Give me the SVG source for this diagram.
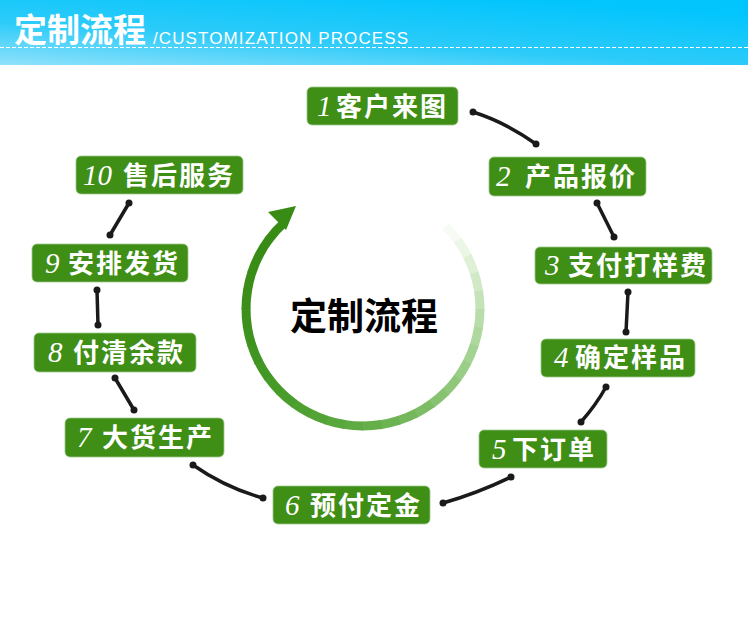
<svg xmlns="http://www.w3.org/2000/svg" width="748" height="622" viewBox="0 0 748 622">
<defs>
<linearGradient id="hdr" x1="0" y1="1" x2="0.7" y2="0">
<stop offset="0" stop-color="#8fe1fb"/>
<stop offset="0.45" stop-color="#2ccbf9"/>
<stop offset="1" stop-color="#02c5fd"/>
</linearGradient>
<style>
.box{fill:#3f8e16;stroke:#9cc88a;stroke-width:0.8}
.num{font-family:"Liberation Serif",serif;font-style:italic;font-size:29px;fill:#fff}
.cn{font-family:"Noto Sans CJK SC",sans-serif;font-weight:bold;font-size:26px;fill:#fff;letter-spacing:2px}
.conn{fill:none;stroke:#1a1a1a;stroke-width:3.5;stroke-linecap:round}
.dot{fill:#1a1a1a}
.seg{fill:none;stroke-width:9;stroke-dasharray:19.4 800}
</style>
</defs>
<rect width="748" height="622" fill="#fff"/>
<g id="header">
<rect x="0" y="0" width="748" height="65" fill="url(#hdr)"/>
<line x1="0" y1="47.5" x2="748" y2="47.5" stroke="#fff" stroke-width="1" stroke-dasharray="4 2"/>
<text x="14" y="42" font-family="'Noto Sans CJK SC',sans-serif" font-weight="bold" font-size="33" fill="#fff">定制流程</text>
<text x="153" y="44" font-family="'Liberation Sans',sans-serif" font-size="17" fill="#fff" textLength="255">/CUSTOMIZATION PROCESS</text>
</g>
<g id="cycle">
<circle class="seg" cx="363" cy="309" r="117" stroke="#f7fbf5" transform="rotate(-45 363 309)"/>
<circle class="seg" cx="363" cy="309" r="117" stroke="#ecf6e7" transform="rotate(-36 363 309)"/>
<circle class="seg" cx="363" cy="309" r="117" stroke="#dff0d6" transform="rotate(-27 363 309)"/>
<circle class="seg" cx="363" cy="309" r="117" stroke="#d2e9c7" transform="rotate(-18 363 309)"/>
<circle class="seg" cx="363" cy="309" r="117" stroke="#c5e3b8" transform="rotate(-9 363 309)"/>
<circle class="seg" cx="363" cy="309" r="117" stroke="#b9ddaa" transform="rotate(0 363 309)"/>
<circle class="seg" cx="363" cy="309" r="117" stroke="#afd89e" transform="rotate(9 363 309)"/>
<circle class="seg" cx="363" cy="309" r="117" stroke="#a4d292" transform="rotate(18 363 309)"/>
<circle class="seg" cx="363" cy="309" r="117" stroke="#9acd86" transform="rotate(27 363 309)"/>
<circle class="seg" cx="363" cy="309" r="117" stroke="#90c77b" transform="rotate(36 363 309)"/>
<circle class="seg" cx="363" cy="309" r="117" stroke="#86c270" transform="rotate(45 363 309)"/>
<circle class="seg" cx="363" cy="309" r="117" stroke="#7cbc65" transform="rotate(54 363 309)"/>
<circle class="seg" cx="363" cy="309" r="117" stroke="#74b85b" transform="rotate(63 363 309)"/>
<circle class="seg" cx="363" cy="309" r="117" stroke="#6cb352" transform="rotate(72 363 309)"/>
<circle class="seg" cx="363" cy="309" r="117" stroke="#65af4a" transform="rotate(81 363 309)"/>
<circle class="seg" cx="363" cy="309" r="117" stroke="#5eab43" transform="rotate(90 363 309)"/>
<circle class="seg" cx="363" cy="309" r="117" stroke="#58a73c" transform="rotate(99 363 309)"/>
<circle class="seg" cx="363" cy="309" r="117" stroke="#53a336" transform="rotate(108 363 309)"/>
<circle class="seg" cx="363" cy="309" r="117" stroke="#4ea031" transform="rotate(117 363 309)"/>
<circle class="seg" cx="363" cy="309" r="117" stroke="#4a9d2c" transform="rotate(126 363 309)"/>
<circle class="seg" cx="363" cy="309" r="117" stroke="#469a28" transform="rotate(135 363 309)"/>
<circle class="seg" cx="363" cy="309" r="117" stroke="#439724" transform="rotate(144 363 309)"/>
<circle class="seg" cx="363" cy="309" r="117" stroke="#409421" transform="rotate(153 363 309)"/>
<circle class="seg" cx="363" cy="309" r="117" stroke="#3e921e" transform="rotate(162 363 309)"/>
<circle class="seg" cx="363" cy="309" r="117" stroke="#3c901b" transform="rotate(171 363 309)"/>
<circle class="seg" cx="363" cy="309" r="117" stroke="#3b8f19" transform="rotate(180 363 309)"/>
<circle class="seg" cx="363" cy="309" r="117" stroke="#3a8d17" transform="rotate(189 363 309)"/>
<circle class="seg" cx="363" cy="309" r="117" stroke="#398c16" transform="rotate(198 363 309)"/>
<circle class="seg" cx="363" cy="309" r="117" stroke="#388b15" transform="rotate(207 363 309)"/>
<circle cx="363" cy="309" r="117" fill="none" stroke-width="9" stroke-dasharray="25 800" stroke="#388b14" transform="rotate(216 363 309)"/>
<polygon points="296,206 268,212 286,230" fill="#388b14"/>
<text x="364" y="330" text-anchor="middle" font-family="'Noto Sans CJK SC',sans-serif" font-weight="bold" font-size="37" fill="#000">定制流程</text>
</g>
<g id="connectors">
<path class="conn" d="M473,112 Q505,122 536,144"/>
<path class="conn" d="M597,203 L614,237"/>
<path class="conn" d="M628,292 L626,332"/>
<path class="conn" d="M606,387 Q596,405 581,422"/>
<path class="conn" d="M511,477 Q478,493 443,503"/>
<path class="conn" d="M263,498 Q226,488 193,465"/>
<path class="conn" d="M134,410 L115,378"/>
<path class="conn" d="M98,325 L97,290"/>
<path class="conn" d="M110,235 L129,203"/>
<circle class="dot" cx="473" cy="112" r="3.5"/><circle class="dot" cx="536" cy="144" r="3.5"/>
<circle class="dot" cx="597" cy="203" r="3.5"/><circle class="dot" cx="614" cy="237" r="3.5"/>
<circle class="dot" cx="628" cy="292" r="3.5"/><circle class="dot" cx="626" cy="332" r="3.5"/>
<circle class="dot" cx="606" cy="387" r="3.5"/><circle class="dot" cx="581" cy="422" r="3.5"/>
<circle class="dot" cx="511" cy="477" r="3.5"/><circle class="dot" cx="443" cy="503" r="3.5"/>
<circle class="dot" cx="263" cy="498" r="3.5"/><circle class="dot" cx="193" cy="465" r="3.5"/>
<circle class="dot" cx="134" cy="410" r="3.5"/><circle class="dot" cx="115" cy="378" r="3.5"/>
<circle class="dot" cx="98" cy="325" r="3.5"/><circle class="dot" cx="97" cy="290" r="3.5"/>
<circle class="dot" cx="110" cy="235" r="3.5"/><circle class="dot" cx="129" cy="203" r="3.5"/>
</g>
<g id="step1"><rect class="box" x="307" y="87" width="151" height="38" rx="5"/><text class="num" x="317" y="116">1</text><text class="cn" x="336" y="116">客户来图</text></g>
<g id="step2"><rect class="box" x="489" y="157" width="157" height="39" rx="5"/><text class="num" x="496" y="186">2</text><text class="cn" x="525" y="186">产品报价</text></g>
<g id="step3"><rect class="box" x="535" y="247" width="177" height="37" rx="5"/><text class="num" x="545" y="275">3</text><text class="cn" x="568" y="275">支付打样费</text></g>
<g id="step4"><rect class="box" x="541" y="339" width="154" height="38" rx="5"/><text class="num" x="554" y="367">4</text><text class="cn" x="575" y="367">确定样品</text></g>
<g id="step5"><rect class="box" x="479" y="430" width="128" height="38" rx="5"/><text class="num" x="492" y="459">5</text><text class="cn" x="512" y="459">下订单</text></g>
<g id="step6"><rect class="box" x="273" y="486" width="157" height="38" rx="5"/><text class="num" x="285" y="515">6</text><text class="cn" x="310" y="515">预付定金</text></g>
<g id="step7"><rect class="box" x="65" y="418" width="159" height="39" rx="5"/><text class="num" x="77" y="447">7</text><text class="cn" x="102" y="447">大货生产</text></g>
<g id="step8"><rect class="box" x="34" y="333" width="162" height="39" rx="5"/><text class="num" x="48" y="362">8</text><text class="cn" x="73" y="362">付清余款</text></g>
<g id="step9"><rect class="box" x="32" y="244" width="156" height="38" rx="5"/><text class="num" x="45" y="273">9</text><text class="cn" x="68" y="273">安排发货</text></g>
<g id="step10"><rect class="box" x="76" y="156" width="167" height="38" rx="5"/><text class="num" x="83" y="185">10</text><text class="cn" x="123" y="185">售后服务</text></g>
</svg>
